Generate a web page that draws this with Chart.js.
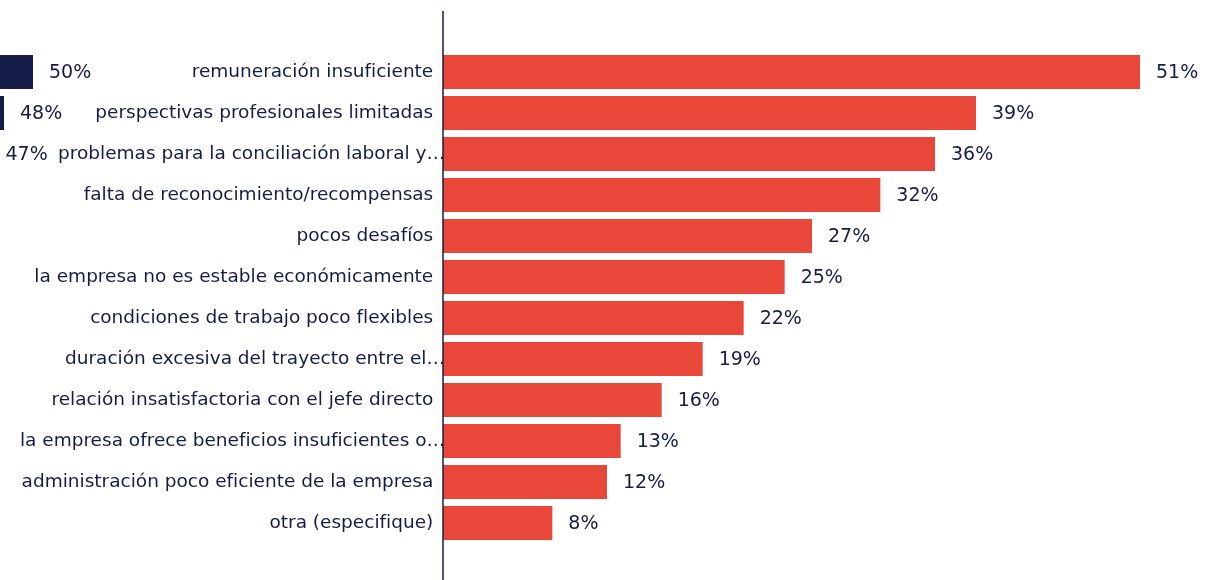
<!DOCTYPE html>
<html lang="es">
<head>
<meta charset="utf-8">
<title>Motivos</title>
<script src="https://cdn.jsdelivr.net/npm/chart.js@4.4.1/dist/chart.umd.min.js"></script>
<style>
  html, body { margin: 0; padding: 0; background: #fff; overflow: hidden; }
  #wrap { position: relative; width: 1230px; height: 580px; overflow: hidden; }
  #leftChart { position: absolute; left: -700px; top: 0; }
  #mainChart { position: absolute; left: 0; top: 0; }
</style>
</head>
<body>
<div id="wrap">
  <canvas id="leftChart" width="813" height="580"></canvas>
  <canvas id="mainChart" width="1230" height="580"></canvas>
</div>
<script>
// Data
const categories = [
  "remuneración insuficiente",
  "perspectivas profesionales limitadas",
  "problemas para la conciliación laboral y…",
  "falta de reconocimiento/recompensas",
  "pocos desafíos",
  "la empresa no es estable económicamente",
  "condiciones de trabajo poco flexibles",
  "duración excesiva del trayecto entre el…",
  "relación insatisfactoria con el jefe directo",
  "la empresa ofrece beneficios insuficientes o…",
  "administración poco eficiente de la empresa",
  "otra (especifique)"
];
const mainValues = [51, 39, 36, 32, 27, 25, 22, 19, 16, 13, 12, 8];
// panel on the left is cut off; only the first three values are visible
const leftValues = [50, 48, 47, null, null, null, null, null, null, null, null, null];

const RED = "#E8473A";
const NAVY = "#161C48";
const FONT = "'DejaVu Sans', Verdana, sans-serif";
const FONT_SIZE = 18.5;

Chart.defaults.font.family = FONT;
Chart.defaults.color = NAVY;

// draws "xx%" to the right of every bar
const valueLabels = {
  id: "valueLabels",
  afterDatasetsDraw(chart) {
    const ctx = chart.ctx;
    ctx.save();
    ctx.font = "19px " + FONT;
    ctx.fillStyle = NAVY;
    ctx.textBaseline = "middle";
    ctx.textAlign = "left";
    const meta = chart.getDatasetMeta(0);
    meta.data.forEach((bar, i) => {
      const v = chart.data.datasets[0].data[i];
      if (v == null) return;
      ctx.fillText(v + "%", bar.x + 16, bar.y + 1);
    });
    ctx.restore();
  }
};

// vertical axis line running the full height
const axisLine = {
  id: "axisLine",
  afterDatasetsDraw(chart) {
    const ctx = chart.ctx;
    const x = chart.scales.x.getPixelForValue(0);
    ctx.save();
    ctx.strokeStyle = NAVY;
    ctx.lineWidth = 1.5;
    ctx.beginPath();
    ctx.moveTo(x, 11);
    ctx.lineTo(x, chart.height);
    ctx.stroke();
    ctx.restore();
  }
};

new Chart(document.getElementById("mainChart"), {
  type: "bar",
  data: {
    labels: categories,
    datasets: [{
      data: mainValues,
      backgroundColor: RED,
      borderWidth: 0,
      barPercentage: 0.83,
      categoryPercentage: 1
    }]
  },
  options: {
    indexAxis: "y",
    responsive: false,
    animation: false,
    layout: { padding: { top: 51.5, bottom: 36.5, right: 90, left: 0 } },
    plugins: { legend: { display: false }, tooltip: { enabled: false } },
    scales: {
      x: {
        display: false,
        min: 0,
        max: 51
      },
      y: {
        grid: { display: false, drawTicks: false },
        border: { display: false },
        ticks: {
          color: NAVY,
          font: { size: FONT_SIZE },
          padding: -2,
          // cut-off labels run under the bars, the others keep a gap
          callback(value) {
            const lbl = this.getLabelForValue(value);
            return lbl.endsWith("…") ? lbl : lbl + "\u00a0\u00a0";
          }
        },
        afterFit(scale) { scale.width = 443; }
      }
    }
  },
  plugins: [valueLabels, axisLine]
});

new Chart(document.getElementById("leftChart"), {
  type: "bar",
  data: {
    labels: categories,
    datasets: [{
      data: leftValues,
      backgroundColor: NAVY,
      borderWidth: 0,
      barPercentage: 0.83,
      categoryPercentage: 1
    }]
  },
  options: {
    indexAxis: "y",
    responsive: false,
    animation: false,
    layout: { padding: { top: 51.5, bottom: 36.5, right: 80, left: 8 } },
    plugins: { legend: { display: false }, tooltip: { enabled: false } },
    scales: {
      x: { display: false, min: 0, max: 50 },
      y: { display: false }
    }
  },
  plugins: [valueLabels]
});
</script>
</body>
</html>
